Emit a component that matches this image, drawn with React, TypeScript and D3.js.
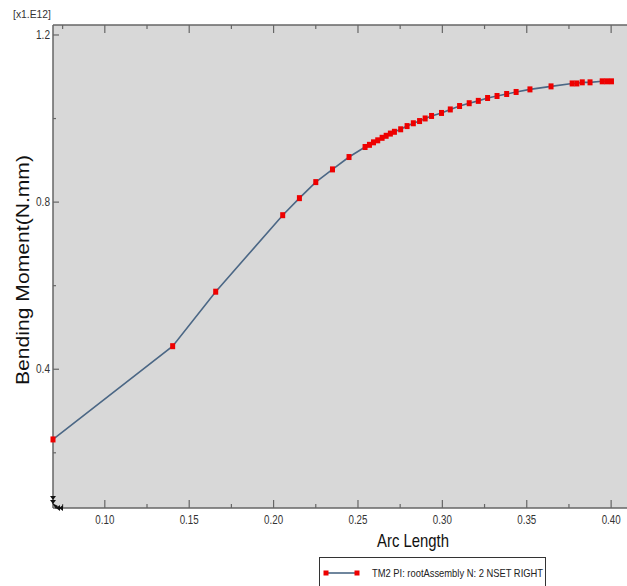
import * as d3 from "d3";
import { useMemo } from "react";

const arcLength = [
  0.0693, 0.1402, 0.1657, 0.2054, 0.2153, 0.225, 0.2349, 0.2447, 0.2542, 0.2568,
  0.2592, 0.2617, 0.2643, 0.2667, 0.2692, 0.2716, 0.2753, 0.2791, 0.2828, 0.2865,
  0.2898, 0.2936, 0.2995, 0.3047, 0.3102, 0.3159, 0.3213, 0.3268, 0.3324, 0.3381,
  0.3437, 0.3519, 0.3644, 0.3769, 0.3797, 0.3829, 0.3875, 0.3947, 0.3974, 0.4002,
];
const moment = [
  0.232, 0.4552, 0.5856, 0.7687, 0.8095, 0.8479, 0.8783, 0.9079, 0.9319, 0.9371,
  0.9431, 0.9479, 0.9539, 0.9587, 0.964, 0.9683, 0.9743, 0.982, 0.9887, 0.994,
  1.0002, 1.0062, 1.0134, 1.0218, 1.03, 1.0367, 1.0423, 1.0492, 1.054, 1.0588,
  1.0636, 1.0698, 1.077, 1.084, 1.084, 1.0867, 1.0867, 1.0891, 1.0891, 1.0891,
];
const xMajorTicks = [0.1, 0.15, 0.2, 0.25, 0.3, 0.35, 0.4];
const xMinorTicks = [0.075, 0.125, 0.175, 0.225, 0.275, 0.325, 0.375];
const yMajorTicks = [0.4, 0.8, 1.2];
const yMinorTicks = [0.2, 0.6, 1.0];
const seriesName = "TM2 PI: rootAssembly N: 2 NSET RIGHT";

const W = 627;
const H = 586;
const left = 53;
const top = 25;
const bottom = 508;
const font = "'Liberation Sans', Arial, sans-serif";
const lineColor = "#4b6785";
const markColor = "#ee0000";

export default function App() {
  const data = arcLength.map((a, i) => ({ x: a, y: moment[i] }));
  const x = useMemo(() => d3.scaleLinear().domain([0.0693, 0.4094]).range([left, W]), []);
  const y = useMemo(() => d3.scaleLinear().domain([0.0679, 1.2239]).range([bottom, top]), []);
  const line = d3.line<{ x: number; y: number }>().x((d) => x(d.x)).y((d) => y(d.y));

  return (
    <div style={{ position: "absolute", left: 0, top: 0 }}>
      <svg width={W} height={H} style={{ display: "block", background: "#fff" }}>
        <rect x={left} y={top} width={W - left} height={bottom - top} fill="#d8d8d8" />
        <text x={13} y={18} fontSize={11} fontFamily={font} fill="#333" textLength={38} lengthAdjust="spacingAndGlyphs">
          [x1.E12]
        </text>

        {/* axes frame */}
        <line x1={left} x2={W} y1={top} y2={top} stroke="#666" strokeWidth={1.5} />
        <line x1={left} x2={W} y1={bottom} y2={bottom} stroke="#666" strokeWidth={1.5} />
        <line x1={left} x2={left} y1={top} y2={bottom} stroke="#666" strokeWidth={1.5} />

        {xMajorTicks.map((t) => (
          <g key={"xM" + t}>
            <line x1={x(t)} x2={x(t)} y1={bottom} y2={bottom - 8} stroke="#666" strokeWidth={1.2} />
            <line x1={x(t)} x2={x(t)} y1={top} y2={top + 8} stroke="#666" strokeWidth={1.2} />
            <text
              x={x(t) - 9.5}
              y={bottom + 16}
              fontSize={12}
              fontFamily={font}
              fill="#333"
              textLength={19}
              lengthAdjust="spacingAndGlyphs"
            >
              {t.toFixed(2)}
            </text>
          </g>
        ))}
        {xMinorTicks.map((t) => (
          <g key={"xm" + t}>
            <line x1={x(t)} x2={x(t)} y1={bottom} y2={bottom - 4} stroke="#666" strokeWidth={1.2} />
            <line x1={x(t)} x2={x(t)} y1={top} y2={top + 4} stroke="#666" strokeWidth={1.2} />
          </g>
        ))}
        {yMajorTicks.map((t) => (
          <g key={"yM" + t}>
            <line x1={left} x2={left + 6} y1={y(t)} y2={y(t)} stroke="#666" strokeWidth={1.2} />
            <text
              x={left - 17}
              y={y(t) + 4}
              fontSize={12}
              fontFamily={font}
              fill="#333"
              textLength={14}
              lengthAdjust="spacingAndGlyphs"
            >
              {t.toFixed(1)}
            </text>
          </g>
        ))}
        {yMinorTicks.map((t) => (
          <line key={"ym" + t} x1={left} x2={left + 3} y1={y(t)} y2={y(t)} stroke="#666" strokeWidth={1.2} />
        ))}

        {/* corner symbols */}
        <path d="M50,496 L56,496 L53,500 Z M50,500 L56,500 L53,504 Z" fill="#111" />
        <path d="M52,503 L56,509 L58,506 Z" fill="#111" />
        <path d="M56,508 L60,505 L60,511 Z M59,508 L63,505 L63,511 Z" fill="#111" />

        <path d={line(data) ?? ""} fill="none" stroke={lineColor} strokeWidth={1.6} />
        {data.map((d, i) => (
          <rect key={i} x={x(d.x) - 2.5} y={y(d.y) - 3} width={5} height={6} fill={markColor} />
        ))}

        <text x={377} y={547} fontSize={19} fontFamily={font} fill="#111" textLength={72} lengthAdjust="spacingAndGlyphs">
          Arc Length
        </text>
        <text
          transform="translate(29, 385) rotate(-90)"
          fontSize={18}
          fontFamily={font}
          fill="#111"
          textLength={230}
          lengthAdjust="spacingAndGlyphs"
        >
          Bending Moment(N.mm)
        </text>

        {/* legend */}
        <rect x={319.5} y={557.5} width={226} height={40} fill="#fff" stroke="#333" strokeWidth={1} />
        <line x1={326} x2={357} y1={573} y2={573} stroke={lineColor} strokeWidth={1.6} />
        <rect x={323.5} y={570.5} width={5} height={5} fill={markColor} />
        <rect x={354.5} y={570.5} width={5} height={5} fill={markColor} />
        <text x={372} y={577} fontSize={11} fontFamily={font} fill="#222" textLength={171} lengthAdjust="spacingAndGlyphs">
          {seriesName}
        </text>
      </svg>
    </div>
  );
}
